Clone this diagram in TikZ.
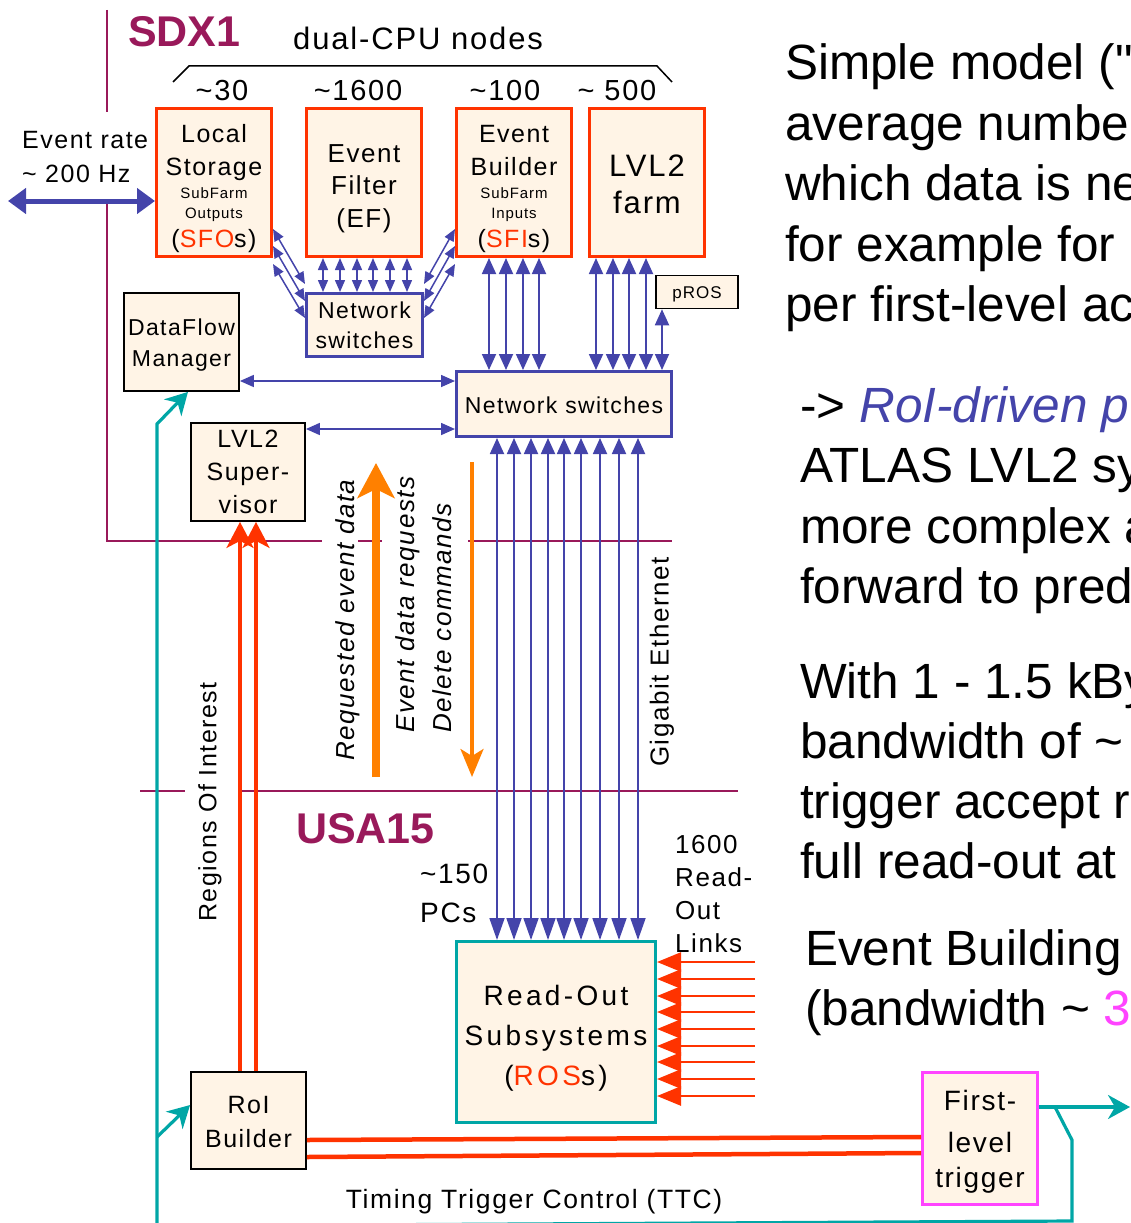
\documentclass[tikz,border=0pt]{standalone}
\usepackage{fontspec}
\setmainfont{Liberation Sans}[LetterSpace=6]
\newfontfamily\plainfont{Liberation Sans}
\usetikzlibrary{arrows.meta}
\definecolor{cream}{RGB}{255,244,230}
\definecolor{myred}{RGB}{255,51,0}
\definecolor{myblue}{RGB}{68,68,170}
\definecolor{myteal}{RGB}{0,166,166}
\definecolor{mymaroon}{RGB}{153,25,90}
\definecolor{myorange}{RGB}{255,128,0}
\definecolor{mymagenta}{RGB}{255,68,255}
\newcommand\tild{\textasciitilde}
\newcommand\fs[2]{\fontsize{#1}{#2}\selectfont}
\begin{document}
\begin{tikzpicture}[x=1pt,y=-1pt,
  box/.style={draw=black, fill=cream, line width=1.8pt, inner sep=0pt, align=center, text depth=0pt},
  redbox/.style={box, draw=myred, line width=3pt},
  bluebox/.style={box, draw=myblue, line width=3pt},
  lbl/.style={inner sep=0pt},
  rt/.style={anchor=base west, inner sep=0pt, font=\plainfont\fs{49.5}{58}},
  title/.style={inner sep=0pt, anchor=base west, text=mymaroon, font=\plainfont\bfseries\fs{43}{50}},
  mline/.style={draw=mymaroon, line width=2.2pt},
  blA/.style={draw=myblue, line width=1.8pt, arrows={Triangle[width=14pt,length=16pt]-Triangle[width=14pt,length=16pt]}},
  blS/.style={draw=myblue, line width=1.5pt, arrows={Triangle[width=10pt,length=12pt]-Triangle[width=10pt,length=12pt]}},
  blH/.style={draw=myblue, line width=1.6pt, arrows={Triangle[width=12pt,length=14pt]-Triangle[width=12pt,length=14pt]}},
  giga/.style={draw=myblue, line width=1.8pt, arrows={Triangle[width=14pt,length=16pt]-Triangle[width=15pt,length=22pt]}},
  evr/.style={draw=myblue, line width=5pt, arrows={Triangle[width=25pt,length=18pt]-Triangle[width=25pt,length=18pt]}},
  redin/.style={draw=myred, line width=2.5pt, arrows={-Triangle[width=19pt,length=24pt]}},
  redup/.style={draw=myred, line width=3.5pt, arrows={-Stealth[width=27pt,length=26pt,inset=7pt]}},
  redh/.style={draw=myred, line width=4.5pt},
  tealln/.style={draw=myteal, line width=3.2pt},
  tealar/.style={tealln, arrows={-Stealth[width=24pt,length=22pt,inset=7pt]}},
  orthick/.style={draw=myorange, line width=8pt, arrows={-Stealth[width=37pt,length=35pt,inset=9pt]}},
  orthin/.style={draw=myorange, line width=3.5pt, arrows={-Stealth[width=23pt,length=28pt,inset=7pt]}}
]
\useasboundingbox (0,0) rectangle (1131,1223);
\clip (0,0) rectangle (1131,1223);

% site separators
\draw[mline] (107,10) -- (107,112);
\draw[mline] (107,203) -- (107,541) -- (322,541);
\draw[mline] (358,541) -- (382,541);
\draw[mline] (468,541) -- (672,541);
\draw[mline] (140,791) -- (185,791);
\draw[mline] (240,791) -- (738,791);

% titles and labels
\node[title] (sdx) at (128,47) {SDX1};
\node[title] (usa) at (296,843) {USA15};
\node[lbl, anchor=base west, font=\fs{31}{36}] (dual) at (293,50) {dual-CPU nodes};
\draw[line width=1.5pt] (173,82) -- (189,66) -- (657,66) -- (672,82);
\node[lbl, anchor=base, font=\fs{29}{34}] (n30) at (222,100) {\tild30};
\node[lbl, anchor=base, font=\fs{29}{34}] (n1600) at (358,100) {\tild1600};
\node[lbl, anchor=base, font=\fs{29}{34}] (n100) at (505,100) {\tild100};
\node[lbl, anchor=base, font=\fs{29}{34}] (n500) at (617,100) {\tild\ 500};
\node[lbl, anchor=base west, align=left, font=\fs{25}{34}] (evrate) at (22,182) {Event rate\\\tild\ 200 Hz};
\node[lbl, anchor=base west, align=left, font=\fs{28}{39}] (pcs) at (420,922) {\tild150\\PCs};
\node[lbl, anchor=base west, align=left, font=\fs{26}{33}] (links) at (675,952) {1600\\Read-\\Out\\Links};
\node[lbl, rotate=90, font=\fs{25}{30}] (roi) at (210,802) {Regions Of Interest};
\node[lbl, rotate=90, font=\itshape\fs{26}{30}] (req) at (348,620) {Requested event data};
\node[lbl, rotate=90, anchor=west, font=\itshape\fs{26}{30}] (edr) at (408,733) {Event data requests};
\node[lbl, rotate=90, anchor=west, font=\itshape\fs{26}{30}] (del) at (442,733) {Delete commands};
\node[lbl, rotate=90, font=\fs{26}{30}] (gig) at (662,662) {Gigabit Ethernet};
\node[lbl, anchor=base, font=\fs{26.5}{30}] (ttc) at (534,1208) {Timing Trigger Control (TTC)};

% boxes
\node[redbox, minimum width=115pt, minimum height=148pt, font=\fs{25}{33}, text height=129pt] (ls) at (214,182.5)
  {Local\\Storage\\[-10pt]{\fs{15}{18}SubFarm}\\[-13pt]{\fs{15}{18}Outputs}\\[-4pt](\textcolor{myred}{SFO}s)};
\node[redbox, minimum width=115pt, minimum height=148pt, font=\fs{26}{32.5}, text height=89pt] (ef) at (364,182.5)
  {Event\\Filter\\(EF)};
\node[redbox, minimum width=115pt, minimum height=148pt, font=\fs{25}{33}, text height=129pt] (eb) at (514,182.5)
  {Event\\Builder\\[-10pt]{\fs{15}{18}SubFarm}\\[-13pt]{\fs{15}{18}Inputs}\\[-4pt](\textcolor{myred}{SFI}s)};
\node[redbox, minimum width=115pt, minimum height=148pt, font=\fs{31}{37}, text height=61pt] (l2f) at (647,182.5)
  {LVL2\\farm};
\node[bluebox, minimum width=116pt, minimum height=63pt, font=\fs{23}{30}, text height=46pt] (nsw) at (364.5,325)
  {Network\\switches};
\node[box, line width=1.5pt, minimum width=82pt, minimum height=33pt, font=\fs{17}{20}, text height=12pt] (pros) at (697,292)
  {pROS};
\node[bluebox, minimum width=215pt, minimum height=65pt, font=\fs{23}{28}, text height=18pt] (bsw) at (564,404)
  {Network switches};
\node[box, minimum width=115pt, minimum height=98pt, font=\fs{23}{31}, text height=48pt] (dfm) at (181.5,342)
  {DataFlow\\Manager};
\node[box, minimum width=114pt, minimum height=98pt, font=\fs{25}{33}, text height=82pt] (l2s) at (248,472)
  {LVL2\\Super-\\visor};
\node[box, minimum width=115pt, minimum height=97pt, font=\fs{25}{34}, text height=53pt] (rob) at (248.5,1120.5)
  {RoI\\Builder};
\node[box, draw=myteal, line width=3pt, minimum width=199pt, minimum height=181pt, font={\addfontfeature{LetterSpace=12}\fs{28}{40}}, text height=106pt] (ros) at (556,1032)
  {Read-Out\\Subsystems\\(\textcolor{myred}{ROS}s)};
\node[box, draw=mymagenta, line width=3pt, minimum width=115pt, minimum height=132pt, font=\fs{28}{38}, text height=97pt] (flt) at (980,1138.5)
  {First-\\[4pt]level\\[-3pt]trigger};

% event rate
\coordinate (evl) at (8,201);
\draw[evr] (evl) -- (ls.west |- evl);

% SFO / SFI to small switches
\foreach \a/\b in {229/284,246/301,264/318} {
  \draw[blS] (ls.east |- 0,\a) -- (nsw.west |- 0,\b);
  \draw[blS] (nsw.east |- 0,\b) -- (eb.west |- 0,\a);
}
\foreach \x in {323,340,357,373,390,407}
  \draw[blS] (\x,0 |- ef.south) -- (\x,0 |- nsw.north);

% to big switches
\foreach \x in {489,506,523,539,596,613,629,646}
  \draw[blA] (\x,0 |- eb.south) -- (\x,0 |- bsw.north);
\draw[blA] (662,0 |- pros.south) -- (662,0 |- bsw.north);
\draw[blH] (dfm.east |- 0,381) -- (bsw.west |- 0,381);
\draw[blH] (l2s.east |- 0,429) -- (bsw.west |- 0,429);

% gigabit ethernet
\foreach \x in {497,514,531,548,564,581,600,619,638}
  \draw[giga] (\x,0 |- bsw.south) -- (\x,0 |- ros.north);

% read-out links
\foreach \y [count=\i] in {962,979,996,1012,1029,1046,1062,1079,1096} {
  \coordinate (rl\i) at (755,\y);
  \draw[redin] (rl\i) -- (ros.east |- rl\i);
}

% orange flows
\coordinate (o1b) at (376,777); \coordinate (o1t) at (376,463);
\draw[orthick] (o1b) -- (o1t);
\coordinate (o2t) at (472,462); \coordinate (o2b) at (472,777);
\draw[orthin] (o2t) -- (o2b);

% RoI
\foreach \x in {240,256}
  \draw[redup] (\x,0 |- rob.north) -- (\x,0 |- l2s.south);
\draw[redh] (rob.east |- 0,1140) -- (flt.west |- 0,1137);
\draw[redh] (rob.east |- 0,1157) -- (flt.west |- 0,1153);

% TTC
\coordinate (ttcR) at (1130,1107);
\coordinate (tk) at (1055,1107);
\coordinate (tbl) at (157,1226);
\draw[tealar] (flt.east |- ttcR) -- (ttcR);
\draw[tealln] (tk) -- (1072,1140) -- (1072,1221) -- (tbl);
\draw[tealar] (tbl) -- (157,424) -- (188,0 |- dfm.south);
\draw[tealar] (157,1137) -- (rob.west |- 0,1105);

% text at right
\node[rt] (t1) at (785,79) {Simple model ("};
\node[rt] (t2) at (785,140) {average numbe};
\node[rt] (t3) at (785,200) {which data is ne};
\node[rt] (t4) at (785,261) {for example for};
\node[rt] (t5) at (785,321) {per first-level ac};
\node[rt] (t6) at (800,422) {-> \textcolor{myblue}{\itshape RoI-driven p}};
\node[rt] (t7) at (800,482) {ATLAS LVL2 sy};
\node[rt] (t8) at (800,543) {more complex a};
\node[rt] (t9) at (800,603) {forward to pred};
\node[rt] (t10) at (800,698) {With 1 - 1.5 kBy};
\node[rt] (t11) at (800,758) {bandwidth of \tild};
\node[rt] (t12) at (800,818) {trigger accept r};
\node[rt] (t13) at (800,878) {full read-out at};
\node[rt] (t14) at (805,965) {Event Building};
\node[rt] (t15) at (805,1025) {(bandwidth \tild\ \textcolor{mymagenta}{3}};
\end{tikzpicture}
\end{document}
